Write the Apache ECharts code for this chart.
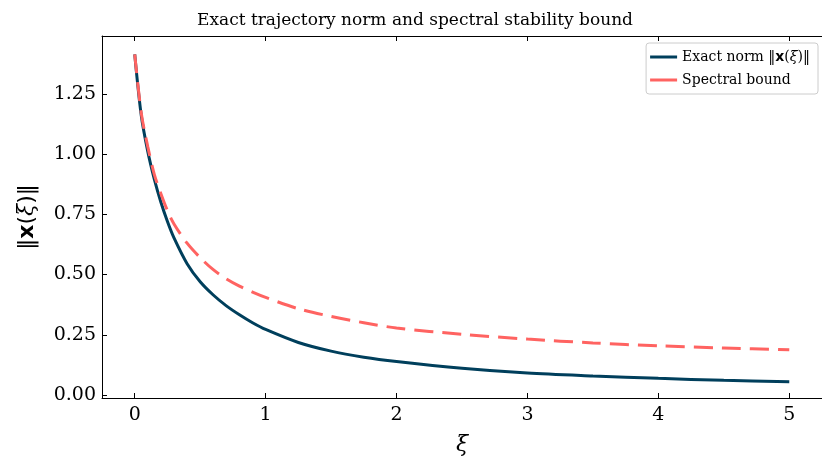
<!DOCTYPE html>
<html>
<head>
<meta charset="utf-8">
<script src="https://cdn.jsdelivr.net/npm/echarts@6/dist/echarts.min.js"></script>
<style>
  html, body { margin: 0; padding: 0; background: #fff; }
  #chart { width: 822px; height: 461px; }
</style>
</head>
<body>
<div id="chart"></div>
<script>
// values
const xi = [0, 0.05, 0.1, 0.15, 0.2, 0.25, 0.3, 0.4, 0.5, 0.6, 0.7, 0.8, 0.9, 1.0, 1.25, 1.5, 1.75, 2.0, 2.5, 3.0, 3.5, 4.0, 4.5, 5.0]
const exactNorm = [1.414, 1.16, 1.01, 0.895, 0.8, 0.72, 0.652, 0.545, 0.47, 0.415, 0.37, 0.333, 0.3, 0.272, 0.218, 0.182, 0.157, 0.139, 0.111, 0.091, 0.079, 0.069, 0.061, 0.055]
const spectralBound = [1.414, 1.17, 1.03, 0.915, 0.835, 0.765, 0.71, 0.63, 0.57, 0.52, 0.482, 0.452, 0.427, 0.405, 0.358, 0.326, 0.3, 0.278, 0.252, 0.232, 0.216, 0.204, 0.195, 0.188]
const xTicks = [0, 1, 2, 3, 4, 5]
const yTicks = [0, 0.25, 0.5, 0.75, 1.0, 1.25]

const serif = 'DejaVu Serif'
const exactName = 'Exact norm'
const boundName = 'Spectral bound'

const pairs = (ys) => xi.map((x, i) => [x, ys[i]])

const chart = echarts.init(document.getElementById('chart'))

chart.setOption({
  animation: false,
  title: {
    text: 'Exact trajectory norm and spectral stability bound',
    left: 410,
    top: 7,
    textAlign: 'center',
    textStyle: { fontFamily: serif, fontWeight: 'normal', fontSize: 17, color: '#000' }
  },
  legend: {
    orient: 'vertical',
    right: 4,
    top: 43,
    padding: [7, 8, 7, 4],
    icon: 'rect',
    itemWidth: 27,
    itemHeight: 3,
    itemGap: 9,
    backgroundColor: 'rgba(255,255,255,0.8)',
    borderColor: '#cccccc',
    borderWidth: 1,
    borderRadius: 3,
    data: [exactName, boundName],
    formatter: (name) => name === exactName ? 'Exact norm ‖{b|x}({i|ξ})‖' : name,
    textStyle: {
      fontFamily: serif, fontSize: 14, color: '#000',
      rich: {
        b: { fontFamily: 'DejaVu Sans', fontWeight: 'bold', fontSize: 14 },
        i: { fontFamily: 'DejaVu Serif', fontStyle: 'italic', fontSize: 14 }
      }
    }
  },
  grid: { left: 102, right: -12, top: 36, bottom: 62, containLabel: false },
  xAxis: [{
    type: 'value',
    min: -0.25,
    max: 5.25,
    name: 'ξ',
    nameLocation: 'middle',
    nameGap: 36,
    nameTextStyle: { fontFamily: serif, fontStyle: 'italic', fontSize: 22, color: '#000' },
    splitLine: { show: false },
    axisLine: { onZero: false, lineStyle: { color: '#000', width: 1 } },
    axisTick: { inside: true, length: 5, customValues: xTicks, lineStyle: { color: '#000' } },
    axisLabel: { customValues: xTicks, fontFamily: serif, fontSize: 19, color: '#000', margin: 8 }
  }, {
    type: 'value',
    position: 'top',
    min: -0.25,
    max: 5.25,
    splitLine: { show: false },
    axisLine: { onZero: false, lineStyle: { color: '#000', width: 1 } },
    axisTick: { inside: true, length: 5, customValues: xTicks, lineStyle: { color: '#000' } },
    axisLabel: { show: false }
  }],
  yAxis: {
    type: 'value',
    min: -0.0125,
    max: 1.49,
    name: '{n|‖}{b|x}{n|(}{i|ξ}{n|)‖}',
    nameLocation: 'middle',
    nameRotate: 90,
    nameGap: 64,
    nameTextStyle: {
      color: '#000',
      rich: {
        n: { fontFamily: 'DejaVu Sans', fontSize: 22, color: '#000' },
        b: { fontFamily: 'DejaVu Sans', fontWeight: 'bold', fontSize: 22, color: '#000' },
        i: { fontFamily: 'DejaVu Serif', fontStyle: 'italic', fontSize: 22, color: '#000' }
      }
    },
    splitLine: { show: false },
    axisLine: { show: true, onZero: false, lineStyle: { color: '#000', width: 1 } },
    axisTick: { show: true, inside: true, length: 5, customValues: yTicks, lineStyle: { color: '#000' } },
    axisLabel: {
      customValues: yTicks,
      formatter: (v) => v.toFixed(2),
      fontFamily: serif, fontSize: 19, color: '#000', margin: 6
    }
  },
  series: [{
    name: exactName,
    type: 'line',
    data: pairs(exactNorm),
    showSymbol: false,
    symbol: 'none',
    smooth: 0.3,
    lineStyle: { color: '#003f5c', width: 3 },
    itemStyle: { color: '#003f5c' }
  }, {
    name: boundName,
    type: 'line',
    data: pairs(spectralBound),
    showSymbol: false,
    symbol: 'none',
    smooth: 0.3,
    lineStyle: { color: '#ff6361', width: 3, type: [19, 9] },
    itemStyle: { color: '#ff6361' }
  }]
})
</script>
</body>
</html>
